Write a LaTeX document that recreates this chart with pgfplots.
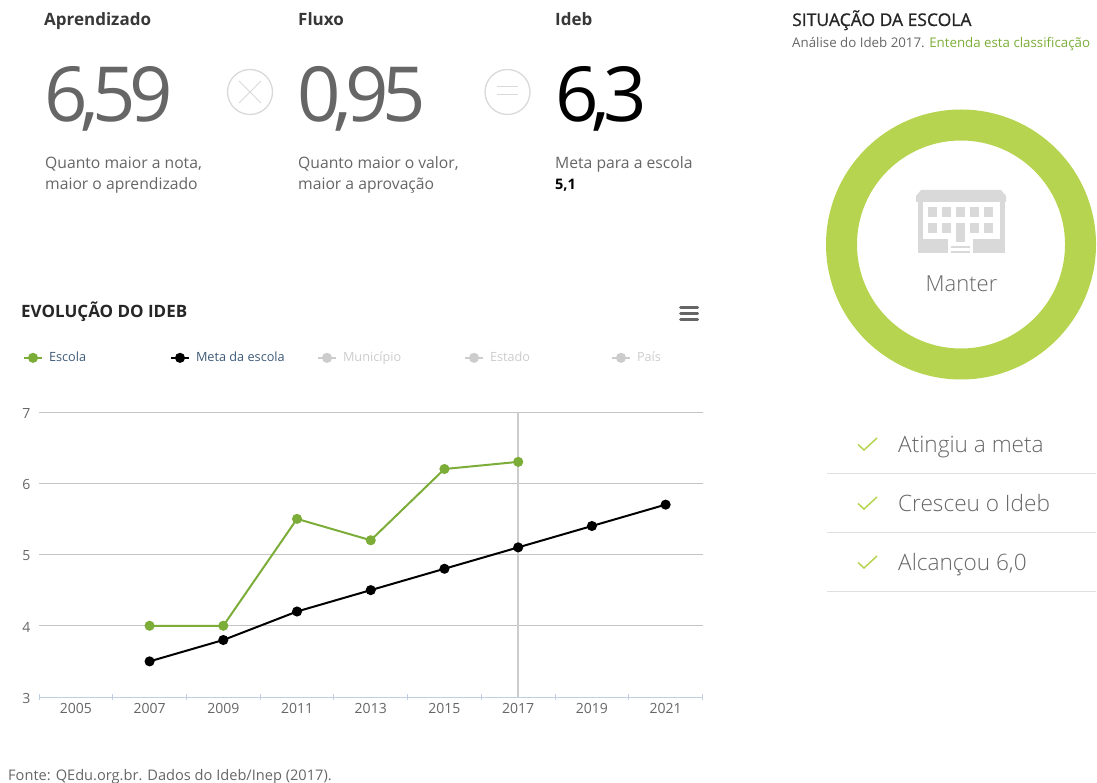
\documentclass[border=0pt]{standalone}
\usepackage{fontspec}
\setmainfont{Open Sans}
\newfontfamily\light{Open Sans Light}
\newfontfamily\semi[FakeBold=1]{Open Sans}
\usepackage{pgfplots}
\pgfplotsset{compat=1.18}
\definecolor{esc}{HTML}{7CAD38}
\definecolor{ring}{HTML}{B6D44F}
\definecolor{ic}{HTML}{D9D9D9}
\definecolor{txt}{HTML}{666666}
\definecolor{gridc}{HTML}{C4C4C4}
\definecolor{axc}{HTML}{C0D0E0}
\definecolor{inact}{HTML}{CCCCCC}
\definecolor{legt}{HTML}{3E5A78}
\begin{document}
\begin{tikzpicture}
\begin{scope}[x=1pt,y=-1pt]
\path[use as bounding box] (0,0) rectangle (1097,783);
% headings
\tikzset{t/.style={anchor=base west,inner sep=0pt,font=\fontsize{13.5}{16}\selectfont}}
\node[t,font=\fontsize{17}{18}\selectfont\bfseries,text=black!78] at (44,26) {Aprendizado};
\node[t,font=\fontsize{17}{18}\selectfont\bfseries,text=black!78] at (298,26) {Fluxo};
\node[t,font=\fontsize{17}{18}\selectfont\bfseries,text=black!78] at (555,26) {Ideb};
\node[t,font=\fontsize{76}{76}\selectfont\addfontfeatures{LetterSpace=-9},text=txt] at (44,122) {6,59};
\node[t,font=\fontsize{76}{76}\selectfont\addfontfeatures{LetterSpace=-9},text=txt] at (297,122) {0,95};
\node[t,font=\fontsize{76}{76}\selectfont\addfontfeatures{LetterSpace=-9},text=black] at (555,122) {6,3};
\node[t,text=txt,font=\fontsize{15.7}{16}\selectfont] at (45,169) {Quanto maior a nota,};
\node[t,text=txt,font=\fontsize{15.7}{16}\selectfont] at (45,190) {maior o aprendizado};
\node[t,text=txt,font=\fontsize{15.7}{16}\selectfont] at (298,169) {Quanto maior o valor,};
\node[t,text=txt,font=\fontsize{15.7}{16}\selectfont] at (298,190) {maior a aprovação};
\node[t,text=txt,font=\fontsize{15.7}{16}\selectfont] at (555,169) {Meta para a escola};
\node[t,font=\fontsize{14.5}{16}\selectfont\bfseries,text=black] at (555,190) {5,1};
% operators
\draw[ic,line width=1.3pt] (250,92) circle (22.5);
\draw[ic,line width=1pt] (239,81) -- (261,103) (239,103) -- (261,81);
\draw[ic,line width=1.3pt] (507.5,92) circle (22.5);
\draw[ic,line width=1pt] (497,87) -- (518,87) (497,94.5) -- (518,94.5);
% right column
\node[t,font=\fontsize{17.5}{18}\semi,text=black!85] at (792,26) {SITUAÇÃO DA ESCOLA};
\node[t,font=\fontsize{13.3}{14}\selectfont,text=txt] at (792,48) {Análise do Ideb 2017. \textcolor{esc}{Entenda esta classificação}};
\draw[ring,line width=31pt] (961,244.5) circle (119.5);
% building
\fill[ic] (916,202) -- (916,196) -- (921,190) -- (1001,190) -- (1006,196) -- (1006,202) -- cycle;
\fill[ic] (918,202) rectangle (923,253);
\fill[ic] (1000,202) rectangle (1005,253);
\fill[ic] (918,239) rectangle (948,253);
\fill[ic] (973,239) rectangle (1005,253);
\foreach \x/\w in {928/9,942/8.5,956/8.5,970/8.5,984/8.5}{
  \fill[ic] (\x,207) rectangle ++(\w,10.5);
}
\foreach \x/\w in {928/9,942/8.5,970/8.5,984/8.5}{
  \fill[ic] (\x,223) rectangle ++(\w,10.5);
}
\fill[ic] (956,223) rectangle (964.5,242);
\fill[ic] (951,246) rectangle (970,248);
\fill[ic] (951,251) rectangle (970,253);
\node[anchor=base,inner sep=0pt,font=\fontsize{22}{24}\light,text=txt] at (961.5,292) {Manter};
\foreach \y/\s in {452/Atingiu a meta,511/Cresceu o Ideb,570/Alcançou 6{,}0}{
  \node[t,font=\fontsize{22.6}{24}\light,text=txt] at (898,\y) {\s};
  \draw[ring,line width=1.5pt] (858,\y-7.5) -- (864,\y-2) -- (877,\y-14);
}
\foreach \y in {473.5,532.5,591.5}{\draw[black!12,line width=1pt] (827,\y) -- (1096,\y);}
% chart title and menu
\node[t,font=\fontsize{17}{18}\selectfont\bfseries,text=black!85] at (21,318) {EVOLUÇÃO DO IDEB};
\foreach \y in {307.5,313.5,319.5}{\draw[txt,line width=3pt,line cap=round] (680.5,\y) -- (697.5,\y);}
\node[t,font=\fontsize{14.6}{16}\selectfont,text=txt] at (8,780) {Fonte: QEdu.org.br. Dados do Ideb/Inep (2017).};
\end{scope}
\begin{axis}[
  at={(39pt,-697pt)},anchor=south west,
  width=663.5pt,height=285pt,scale only axis,
  xmin=-0.5,xmax=8.5,ymin=3,ymax=7,
  axis y line=left,axis x line=bottom,
  axis line style={-},
  y axis line style={draw=none},
  x axis line style={draw=axc,line width=1pt},
  xtick={-0.5,0.5,1.5,2.5,3.5,4.5,5.5,6.5,7.5,8.5},
  xticklabels={},
  x tick style={draw=axc,line width=1pt},
  major tick length=6pt,
  extra x ticks={0,1,2,3,4,5,6,7,8},
  extra x tick labels={2005,2007,2009,2011,2013,2015,2017,2019,2021},
  extra x tick style={major tick length=0pt,grid=none},
  ytick={3,4,5,6,7},
  y tick style={draw=none},
  ymajorgrids,
  grid style={draw=gridc,line width=1pt},
  tick label style={font=\fontsize{14}{14}\selectfont,text=txt},
  x tick label style={yshift=-3pt},
  y tick label style={xshift=-2pt,yshift=-1.5pt},
  /pgf/number format/assume math mode=true,
  clip=false,
  legend columns=5,
  legend style={at={(-0.0241,1.19)},anchor=west,draw=none,fill=none,inner sep=0pt,outer sep=0pt,
    font=\fontsize{12.7}{13}\selectfont,
    /tikz/every even column/.append style={column sep=0pt}},
  legend cell align=left,
  legend image code/.code={
    \draw[#1,mark=none] (0pt,0pt) -- (18pt,0pt);
    \draw[#1,only marks] plot coordinates {(9pt,0pt)};
  },
]
\addplot[forget plot,draw=inact,line width=2pt] coordinates {(6,3) (6,7)};
\addplot[color=esc,line width=2pt,mark=*,mark size=4pt,mark options={solid}] coordinates {(1,4.0) (2,4.0) (3,5.5) (4,5.2) (5,6.2) (6,6.3)};
\addlegendentry{\makebox[123pt][l]{\hspace{4pt}\textcolor{legt}{Escola}}}
\addplot[color=black,line width=2pt,mark=*,mark size=4pt,mark options={solid}] coordinates {(1,3.5) (2,3.8) (3,4.2) (4,4.5) (5,4.8) (6,5.1) (7,5.4) (8,5.7)};
\addlegendentry{\makebox[123pt][l]{\hspace{4pt}\textcolor{legt}{Meta da escola}}}
\addlegendimage{color=inact,line width=2pt,mark=*,mark size=4pt}
\addlegendentry{\makebox[123pt][l]{\hspace{4pt}\textcolor{inact}{Município}}}
\addlegendimage{color=inact,line width=2pt,mark=*,mark size=4pt}
\addlegendentry{\makebox[123pt][l]{\hspace{4pt}\textcolor{inact}{Estado}}}
\addlegendimage{color=inact,line width=2pt,mark=*,mark size=4pt}
\addlegendentry{\makebox[40pt][l]{\hspace{4pt}\textcolor{inact}{País}}}
\end{axis}
\end{tikzpicture}
\end{document}
